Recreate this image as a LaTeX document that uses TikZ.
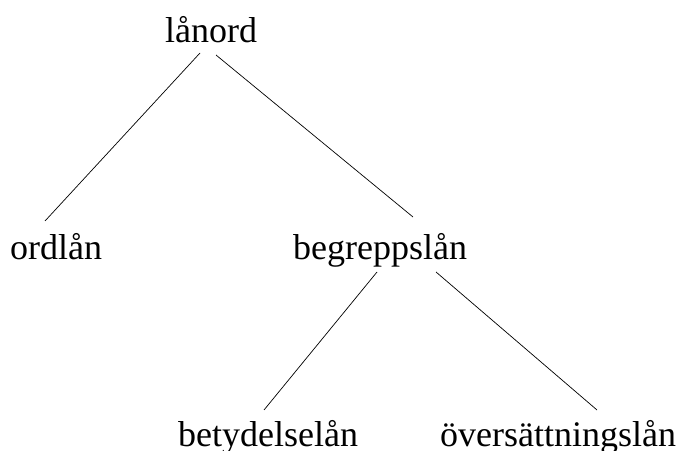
\documentclass[tikz,border=0pt]{standalone}
\usepackage{fontspec}
\setmainfont{Liberation Serif}
\begin{document}
\begin{tikzpicture}[x=1pt,y=1pt,
  word/.style={inner sep=0pt,anchor=base west,font=\fontsize{36}{40}\selectfont},
  edge/.style={line width=0.7pt,black}]
\useasboundingbox (0,0) rectangle (687,450);
\node[word] (root) at (165,407) {lånord};
\node[word] (ordlan) at (10,190) {ordlån};
\node[word] (begr) at (293,190) {begreppslån};
\node[word] (bet) at (178,4) {betydelselån};
\node[word] (over) at (440,4) {översättningslån};
\draw[edge] ([shift={(35,-10)}]root.base west) -- ([shift={(35,39)}]ordlan.base west);
\draw[edge] ([shift={(51,-12)}]root.base west) -- ([shift={(120,43)}]begr.base west);
\draw[edge] ([shift={(84,-12)}]begr.base west) -- ([shift={(86,36)}]bet.base west);
\draw[edge] ([shift={(143,-12)}]begr.base west) -- ([shift={(157,36)}]over.base west);
\end{tikzpicture}
\end{document}
